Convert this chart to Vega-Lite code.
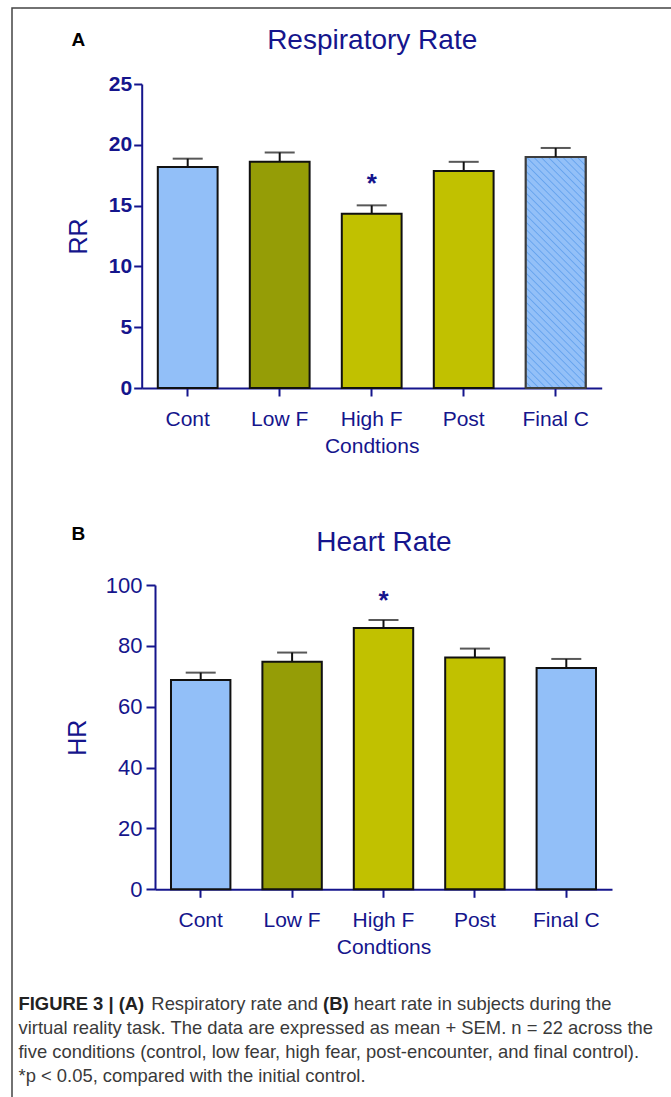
{
  "$schema": "https://vega.github.io/schema/vega-lite/v6.json",
  "width": 659,
  "height": 1089,
  "autosize": {"type": "none"},
  "padding": {"left": 12, "top": 8, "right": 0, "bottom": 0},
  "background": "white",
  "datasets": {
    "rr": [
      {"cond": "Cont", "mean": 18.17, "upper": 18.86, "star": ""},
      {"cond": "Low F", "mean": 18.6, "upper": 19.37, "star": ""},
      {"cond": "High F", "mean": 14.33, "upper": 15.02, "star": "*"},
      {"cond": "Post", "mean": 17.85, "upper": 18.6, "star": ""},
      {"cond": "Final C", "mean": 19.0, "upper": 19.74, "star": ""}
    ],
    "hr": [
      {"cond": "Cont", "mean": 68.8, "upper": 71.2, "star": ""},
      {"cond": "Low F", "mean": 74.8, "upper": 77.8, "star": ""},
      {"cond": "High F", "mean": 85.9, "upper": 88.5, "star": "*"},
      {"cond": "Post", "mean": 76.2, "upper": 79.1, "star": ""},
      {"cond": "Final C", "mean": 72.7, "upper": 75.7, "star": ""}
    ]
  },
  "layer": [
    {
      "data": {"name": "rr"},
      "mark": {"type": "bar", "stroke": "#111111", "strokeWidth": 2},
      "encoding": {
        "x": {"field": "cond", "type": "nominal", "sort": null,
          "scale": {"type": "band", "domain": ["Cont", "Low F", "High F", "Post", "Final C"], "range": [129.7, 589.7], "paddingInner": 0.35, "paddingOuter": 0.175},
          "axis": {"orient": "bottom", "offset": -709, "labelAngle": 0, "labelFontSize": 21, "labelPadding": 12, "tickSize": 8, "labelOverlap": false, "title": "Condtions", "titleFontSize": 21, "titleFontWeight": "normal", "titlePadding": 6}},
        "y": {"field": "mean", "type": "quantitative", "stack": null,
          "scale": {"domain": [0, 25], "range": [380, 76], "nice": false, "zero": true},
          "axis": {"orient": "left", "offset": -129.7, "values": [0, 5, 10, 15, 20, 25], "labelFontSize": 21, "labelFontWeight": "bold", "labelPadding": 2, "tickSize": 8, "title": "RR", "titleFontSize": 25, "titleFontWeight": "normal", "titlePadding": 17}},
        "color": {"field": "cond", "type": "nominal",
          "scale": {"domain": ["Cont", "Low F", "High F", "Post", "Final C"], "range": ["#92bff8", "#959d06", "#c1c100", "#c1c100", "#92bff8"]},
          "legend": null}
      }
    },
    {
      "data": {"name": "rr"},
      "transform": [{"filter": "datum.cond === 'Final C'"}],
      "mark": {"type": "bar", "stroke": "#3d3d3d", "strokeWidth": 2,
        "fill": {"gradient": "linear", "x1": 0, "y1": 1, "x2": 0.307, "y2": -0.18, "stops": [
          {"offset": 0, "color": "#93c0f8"}, {"offset": 0.016, "color": "#93c0f8"}, {"offset": 0.0205, "color": "#67a4ee"},
          {"offset": 0.025, "color": "#93c0f8"}, {"offset": 0.041, "color": "#93c0f8"}, {"offset": 0.0455, "color": "#67a4ee"},
          {"offset": 0.05, "color": "#93c0f8"}, {"offset": 0.066, "color": "#93c0f8"}, {"offset": 0.0705, "color": "#67a4ee"},
          {"offset": 0.075, "color": "#93c0f8"}, {"offset": 0.091, "color": "#93c0f8"}, {"offset": 0.0955, "color": "#67a4ee"},
          {"offset": 0.1, "color": "#93c0f8"}, {"offset": 0.116, "color": "#93c0f8"}, {"offset": 0.1205, "color": "#67a4ee"},
          {"offset": 0.125, "color": "#93c0f8"}, {"offset": 0.141, "color": "#93c0f8"}, {"offset": 0.1455, "color": "#67a4ee"},
          {"offset": 0.15, "color": "#93c0f8"}, {"offset": 0.166, "color": "#93c0f8"}, {"offset": 0.1705, "color": "#67a4ee"},
          {"offset": 0.175, "color": "#93c0f8"}, {"offset": 0.191, "color": "#93c0f8"}, {"offset": 0.1955, "color": "#67a4ee"},
          {"offset": 0.2, "color": "#93c0f8"}, {"offset": 0.216, "color": "#93c0f8"}, {"offset": 0.2205, "color": "#67a4ee"},
          {"offset": 0.225, "color": "#93c0f8"}, {"offset": 0.241, "color": "#93c0f8"}, {"offset": 0.2455, "color": "#67a4ee"},
          {"offset": 0.25, "color": "#93c0f8"}, {"offset": 0.266, "color": "#93c0f8"}, {"offset": 0.2705, "color": "#67a4ee"},
          {"offset": 0.275, "color": "#93c0f8"}, {"offset": 0.291, "color": "#93c0f8"}, {"offset": 0.2955, "color": "#67a4ee"},
          {"offset": 0.3, "color": "#93c0f8"}, {"offset": 0.316, "color": "#93c0f8"}, {"offset": 0.3205, "color": "#67a4ee"},
          {"offset": 0.325, "color": "#93c0f8"}, {"offset": 0.341, "color": "#93c0f8"}, {"offset": 0.3455, "color": "#67a4ee"},
          {"offset": 0.35, "color": "#93c0f8"}, {"offset": 0.366, "color": "#93c0f8"}, {"offset": 0.3705, "color": "#67a4ee"},
          {"offset": 0.375, "color": "#93c0f8"}, {"offset": 0.391, "color": "#93c0f8"}, {"offset": 0.3955, "color": "#67a4ee"},
          {"offset": 0.4, "color": "#93c0f8"}, {"offset": 0.416, "color": "#93c0f8"}, {"offset": 0.4205, "color": "#67a4ee"},
          {"offset": 0.425, "color": "#93c0f8"}, {"offset": 0.441, "color": "#93c0f8"}, {"offset": 0.4455, "color": "#67a4ee"},
          {"offset": 0.45, "color": "#93c0f8"}, {"offset": 0.466, "color": "#93c0f8"}, {"offset": 0.4705, "color": "#67a4ee"},
          {"offset": 0.475, "color": "#93c0f8"}, {"offset": 0.491, "color": "#93c0f8"}, {"offset": 0.4955, "color": "#67a4ee"},
          {"offset": 0.5, "color": "#93c0f8"}, {"offset": 0.516, "color": "#93c0f8"}, {"offset": 0.5205, "color": "#67a4ee"},
          {"offset": 0.525, "color": "#93c0f8"}, {"offset": 0.541, "color": "#93c0f8"}, {"offset": 0.5455, "color": "#67a4ee"},
          {"offset": 0.55, "color": "#93c0f8"}, {"offset": 0.566, "color": "#93c0f8"}, {"offset": 0.5705, "color": "#67a4ee"},
          {"offset": 0.575, "color": "#93c0f8"}, {"offset": 0.591, "color": "#93c0f8"}, {"offset": 0.5955, "color": "#67a4ee"},
          {"offset": 0.6, "color": "#93c0f8"}, {"offset": 0.616, "color": "#93c0f8"}, {"offset": 0.6205, "color": "#67a4ee"},
          {"offset": 0.625, "color": "#93c0f8"}, {"offset": 0.641, "color": "#93c0f8"}, {"offset": 0.6455, "color": "#67a4ee"},
          {"offset": 0.65, "color": "#93c0f8"}, {"offset": 0.666, "color": "#93c0f8"}, {"offset": 0.6705, "color": "#67a4ee"},
          {"offset": 0.675, "color": "#93c0f8"}, {"offset": 0.691, "color": "#93c0f8"}, {"offset": 0.6955, "color": "#67a4ee"},
          {"offset": 0.7, "color": "#93c0f8"}, {"offset": 0.716, "color": "#93c0f8"}, {"offset": 0.7205, "color": "#67a4ee"},
          {"offset": 0.725, "color": "#93c0f8"}, {"offset": 0.741, "color": "#93c0f8"}, {"offset": 0.7455, "color": "#67a4ee"},
          {"offset": 0.75, "color": "#93c0f8"}, {"offset": 0.766, "color": "#93c0f8"}, {"offset": 0.7705, "color": "#67a4ee"},
          {"offset": 0.775, "color": "#93c0f8"}, {"offset": 0.791, "color": "#93c0f8"}, {"offset": 0.7955, "color": "#67a4ee"},
          {"offset": 0.8, "color": "#93c0f8"}, {"offset": 0.816, "color": "#93c0f8"}, {"offset": 0.8205, "color": "#67a4ee"},
          {"offset": 0.825, "color": "#93c0f8"}, {"offset": 0.841, "color": "#93c0f8"}, {"offset": 0.8455, "color": "#67a4ee"},
          {"offset": 0.85, "color": "#93c0f8"}, {"offset": 0.866, "color": "#93c0f8"}, {"offset": 0.8705, "color": "#67a4ee"},
          {"offset": 0.875, "color": "#93c0f8"}, {"offset": 0.891, "color": "#93c0f8"}, {"offset": 0.8955, "color": "#67a4ee"},
          {"offset": 0.9, "color": "#93c0f8"}, {"offset": 0.916, "color": "#93c0f8"}, {"offset": 0.9205, "color": "#67a4ee"},
          {"offset": 0.925, "color": "#93c0f8"}, {"offset": 0.941, "color": "#93c0f8"}, {"offset": 0.9455, "color": "#67a4ee"},
          {"offset": 0.95, "color": "#93c0f8"}, {"offset": 0.966, "color": "#93c0f8"}, {"offset": 0.9705, "color": "#67a4ee"},
          {"offset": 0.975, "color": "#93c0f8"}, {"offset": 0.991, "color": "#93c0f8"}, {"offset": 0.9955, "color": "#67a4ee"},
          {"offset": 1, "color": "#93c0f8"}
        ]}},
      "encoding": {
        "x": {"field": "cond", "type": "nominal", "sort": null,
          "scale": {"type": "band", "domain": ["Cont", "Low F", "High F", "Post", "Final C"], "range": [129.7, 589.7], "paddingInner": 0.35, "paddingOuter": 0.175},
          "axis": null},
        "y": {"field": "mean", "type": "quantitative", "stack": null,
          "scale": {"domain": [0, 25], "range": [380, 76], "nice": false, "zero": true},
          "axis": null}
      }
    },
    {
      "data": {"name": "rr"},
      "mark": {"type": "rule", "color": "#111111", "strokeWidth": 2},
      "encoding": {
        "x": {"field": "cond", "type": "nominal", "sort": null,
          "scale": {"type": "band", "domain": ["Cont", "Low F", "High F", "Post", "Final C"], "range": [129.7, 589.7], "paddingInner": 0.35, "paddingOuter": 0.175},
          "axis": null},
        "y": {"field": "mean", "type": "quantitative",
          "scale": {"domain": [0, 25], "range": [380, 76], "nice": false, "zero": true},
          "axis": null},
        "y2": {"field": "upper"}
      }
    },
    {
      "data": {"name": "rr"},
      "mark": {"type": "tick", "color": "#111111", "thickness": 2, "size": 30},
      "encoding": {
        "x": {"field": "cond", "type": "nominal", "sort": null,
          "scale": {"type": "band", "domain": ["Cont", "Low F", "High F", "Post", "Final C"], "range": [129.7, 589.7], "paddingInner": 0.35, "paddingOuter": 0.175},
          "axis": null},
        "y": {"field": "upper", "type": "quantitative",
          "scale": {"domain": [0, 25], "range": [380, 76], "nice": false, "zero": true},
          "axis": null}
      }
    },
    {
      "data": {"name": "rr"},
      "mark": {"type": "text", "fontSize": 26, "fontWeight": "bold", "color": "#15158c", "dy": -13, "baseline": "alphabetic"},
      "encoding": {
        "x": {"field": "cond", "type": "nominal", "sort": null,
          "scale": {"type": "band", "domain": ["Cont", "Low F", "High F", "Post", "Final C"], "range": [129.7, 589.7], "paddingInner": 0.35, "paddingOuter": 0.175},
          "axis": {"orient": "top", "offset": -40, "labels": false, "ticks": false, "domain": false, "title": "Respiratory Rate", "titleFontSize": 28, "titleFontWeight": "normal", "titleColor": "#15158c", "titleBaseline": "alphabetic", "titlePadding": 0, "minExtent": 0, "maxExtent": 0}},
        "y": {"field": "upper", "type": "quantitative",
          "scale": {"domain": [0, 25], "range": [380, 76], "nice": false, "zero": true},
          "axis": {"orient": "left", "labels": false, "ticks": false, "domain": false, "title": "A", "titleAngle": 0, "titleFontSize": 19, "titleFontWeight": "bold", "titleColor": "#000000", "titleAlign": "left", "titleBaseline": "alphabetic", "titleX": 59, "titleY": 37}},
        "text": {"field": "star"}
      }
    },
    {
      "data": {"name": "hr"},
      "mark": {"type": "bar", "stroke": "#111111", "strokeWidth": 2},
      "encoding": {
        "x": {"field": "cond", "type": "nominal", "sort": null,
          "scale": {"type": "band", "domain": ["Cont", "Low F", "High F", "Post", "Final C"], "range": [143, 600], "paddingInner": 0.35, "paddingOuter": 0.175},
          "axis": {"orient": "bottom", "offset": -207.7, "labelAngle": 0, "labelFontSize": 21, "labelPadding": 12, "tickSize": 8, "labelOverlap": false, "title": "Condtions", "titleFontSize": 21, "titleFontWeight": "normal", "titlePadding": 6}},
        "y": {"field": "mean", "type": "quantitative", "stack": null,
          "scale": {"domain": [0, 100], "range": [881.3, 577], "nice": false, "zero": true},
          "axis": {"orient": "left", "offset": -143, "values": [0, 20, 40, 60, 80, 100], "labelFontSize": 22, "labelFontWeight": "normal", "labelPadding": 4, "tickSize": 9, "title": "HR", "titleFontSize": 25, "titleFontWeight": "normal", "titlePadding": 15}},
        "color": {"field": "cond", "type": "nominal",
          "scale": {"domain": ["Cont", "Low F", "High F", "Post", "Final C"], "range": ["#92bff8", "#959d06", "#c1c100", "#c1c100", "#92bff8"]},
          "legend": null}
      }
    },
    {
      "data": {"name": "hr"},
      "mark": {"type": "rule", "color": "#111111", "strokeWidth": 2},
      "encoding": {
        "x": {"field": "cond", "type": "nominal", "sort": null,
          "scale": {"type": "band", "domain": ["Cont", "Low F", "High F", "Post", "Final C"], "range": [143, 600], "paddingInner": 0.35, "paddingOuter": 0.175},
          "axis": {"orient": "bottom", "labels": false, "ticks": false, "domain": false,
            "title": ["\u200b\u00a0\u00a0\u00a0\u00a0\u00a0\u00a0\u00a0\u00a0\u00a0\u00a0\u00a0\u00a0\u00a0\u00a0\u00a0\u00a0\u00a0\u00a0\u00a0\u00a0\u00a0\u00a0\u00a0\u00a0\u00a0\u00a0Respiratory rate and\u00a0\u00a0\u00a0\u00a0\u00a0\u00a0\u00a0heart rate in subjects during the", "virtual reality task. The data are expressed as mean + SEM. n = 22 across the", "five conditions (control, low fear, high fear, post-encounter, and final control).", "*p < 0.05, compared with the initial control."],
            "titleFontSize": 18.4, "titleFontWeight": "normal", "titleColor": "#3a3a3a", "titleAlign": "left", "titleAnchor": "start", "titleBaseline": "alphabetic", "titleLineHeight": 24, "titleX": 6, "titleY": -88}},
        "y": {"field": "mean", "type": "quantitative",
          "scale": {"domain": [0, 100], "range": [881.3, 577], "nice": false, "zero": true},
          "axis": null},
        "y2": {"field": "upper"}
      }
    },
    {
      "data": {"name": "hr"},
      "mark": {"type": "tick", "color": "#111111", "thickness": 2, "size": 30},
      "encoding": {
        "x": {"field": "cond", "type": "nominal", "sort": null,
          "scale": {"type": "band", "domain": ["Cont", "Low F", "High F", "Post", "Final C"], "range": [143, 600], "paddingInner": 0.35, "paddingOuter": 0.175},
          "axis": {"orient": "top", "labels": false, "ticks": false, "domain": false,
            "title": "FIGURE 3 | (A)\u00a0\u00a0\u00a0\u00a0\u00a0\u00a0\u00a0\u00a0\u00a0\u00a0\u00a0\u00a0\u00a0\u00a0\u00a0\u00a0\u00a0\u00a0\u00a0\u00a0\u00a0\u00a0\u00a0\u00a0\u00a0\u00a0\u00a0\u00a0\u00a0\u00a0\u00a0\u00a0\u00a0\u00a0\u00a0(B)",
            "titleFontSize": 18.4, "titleFontWeight": "bold", "titleColor": "#222222", "titleAlign": "left", "titleAnchor": "start", "titleBaseline": "alphabetic", "titleX": 6, "titleY": 1001}},
        "y": {"field": "upper", "type": "quantitative",
          "scale": {"domain": [0, 100], "range": [881.3, 577], "nice": false, "zero": true},
          "axis": null}
      }
    },
    {
      "data": {"name": "hr"},
      "mark": {"type": "text", "fontSize": 26, "fontWeight": "bold", "color": "#15158c", "dy": -11, "baseline": "alphabetic"},
      "encoding": {
        "x": {"field": "cond", "type": "nominal", "sort": null,
          "scale": {"type": "band", "domain": ["Cont", "Low F", "High F", "Post", "Final C"], "range": [143, 600], "paddingInner": 0.35, "paddingOuter": 0.175},
          "axis": {"orient": "top", "offset": -542, "labels": false, "ticks": false, "domain": false, "title": "Heart Rate", "titleFontSize": 28, "titleFontWeight": "normal", "titleColor": "#15158c", "titleBaseline": "alphabetic", "titlePadding": 0, "minExtent": 0, "maxExtent": 0}},
        "y": {"field": "upper", "type": "quantitative",
          "scale": {"domain": [0, 100], "range": [881.3, 577], "nice": false, "zero": true},
          "axis": {"orient": "left", "labels": false, "ticks": false, "domain": false, "title": "B", "titleAngle": 0, "titleFontSize": 19, "titleFontWeight": "bold", "titleColor": "#000000", "titleAlign": "left", "titleBaseline": "alphabetic", "titleX": 59, "titleY": 531}},
        "text": {"field": "star"}
      }
    }
  ],
  "resolve": {
    "scale": {"x": "independent", "y": "independent"},
    "axis": {"x": "independent", "y": "independent"}
  },
  "config": {
    "font": "Liberation Sans",
    "view": {"stroke": "#444444", "strokeWidth": 1.5, "strokeDash": [659, 1748, 1100]},
    "axis": {"grid": false, "domainColor": "#15158c", "tickColor": "#15158c", "labelColor": "#15158c", "titleColor": "#15158c", "domainWidth": 2, "tickWidth": 2, "labelFont": "Liberation Sans", "titleFont": "Liberation Sans"}
  }
}
